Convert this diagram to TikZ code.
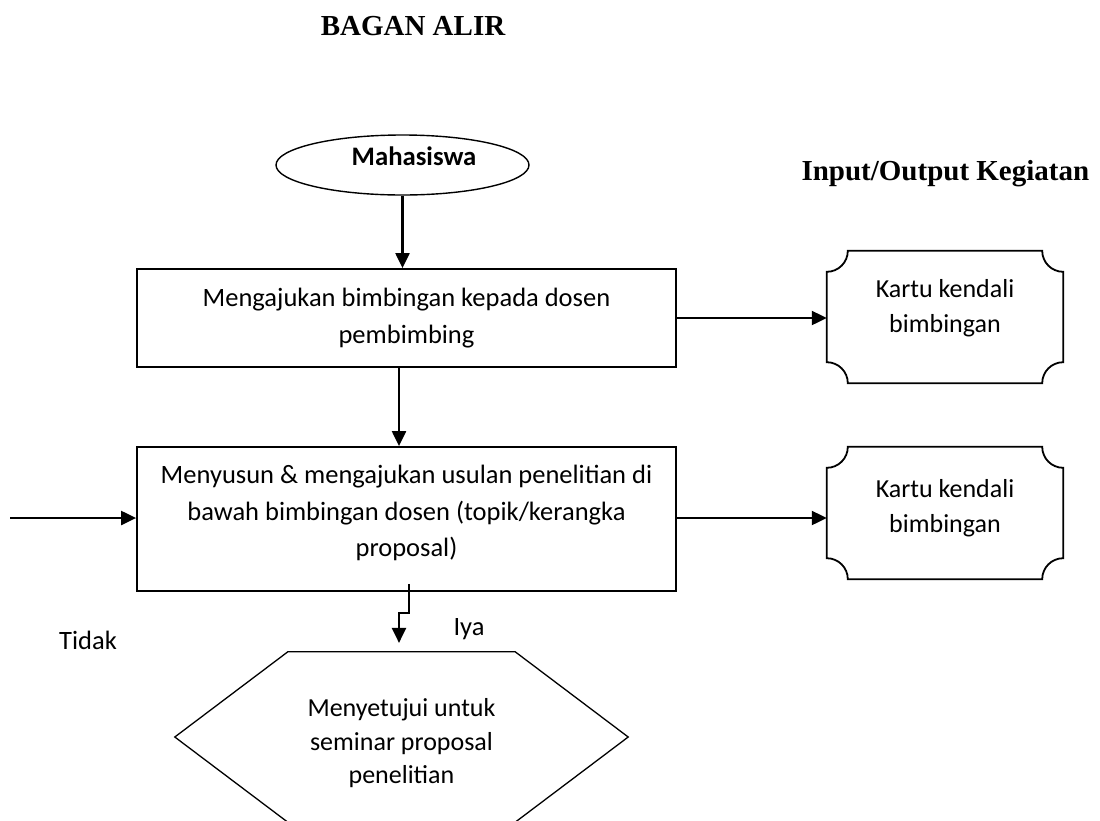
\documentclass[tikz,border=0pt]{standalone}
\usepackage{fontspec}
\setmainfont{Liberation Serif}
\newfontfamily\carl{Carlito}
\usetikzlibrary{shapes.geometric,arrows.meta}
\newcommand{\plaquedraw}[1]{%
  \draw[plaqueline] ([xshift=21pt]#1.north west) -- ([xshift=-21pt]#1.north east)
    arc[start angle=180,end angle=270,radius=21pt] -- ([yshift=21pt]#1.south east)
    arc[start angle=90,end angle=180,radius=21pt] -- ([xshift=21pt]#1.south west)
    arc[start angle=0,end angle=90,radius=21pt] -- ([yshift=-21pt]#1.north west)
    arc[start angle=270,end angle=360,radius=21pt] -- cycle;}
\begin{document}
\begin{tikzpicture}[x=1pt,y=1pt,
  txt/.style={font=\carl\fontsize{26.5}{36.5}\selectfont, align=center},
  procbox/.style={draw, line width=1.8pt, rectangle, inner sep=0pt, txt, minimum width=539pt},
  kartu/.style={txt, font=\carl\fontsize{26}{35}\selectfont, inner sep=0pt, minimum width=236pt, minimum height=132pt},
  plaqueline/.style={line width=1.8pt},
  hexline/.style={line width=1.3pt},
  arr/.style={line width=2.2pt, -{Triangle[length=15pt,width=14pt]}},
  heading/.style={font=\bfseries\fontsize{29}{34}\selectfont}]
\useasboundingbox (0,0) rectangle (1100,-820);
\clip (0,0) rectangle (1100,-820);

\node[heading, anchor=base] (title) at (413,-35) {BAGAN ALIR};
\node[heading, anchor=base west] (io) at (798,-180) {Input/Output Kegiatan};

\node[ellipse, draw, line width=1.4pt, minimum width=253pt, minimum height=60pt,
      inner sep=0pt, text depth=17pt, font=\carl\bfseries\fontsize{26.7}{30}\selectfont]
      (mhs) at (402.5,-165) {\hspace*{23pt}Mahasiswa};

\node[procbox, minimum height=98pt] (box1) at (406.5,-318)
  {Mengajukan bimbingan kepada dosen\\pembimbing};
\node[procbox, minimum height=144pt, text depth=16pt] (box2) at (406.5,-519)
  {Menyusun \& mengajukan usulan penelitian di\\bawah bimbingan dosen (topik/kerangka\\proposal)};

\node[kartu, text depth=22pt] (k1) at (945,-317) {Kartu kendali\\bimbingan};
\node[kartu, text depth=14pt] (k2) at (945,-513) {Kartu kendali\\bimbingan};
\plaquedraw{k1}
\plaquedraw{k2}

\node[txt, font=\carl\fontsize{26}{33.5}\selectfont, text height=98pt, minimum width=453pt, minimum height=170pt, inner sep=0pt]
  (hex) at (401.5,-737) {Menyetujui untuk\\seminar proposal\\penelitian};
\draw[hexline] (hex.west) -- ([xshift=113pt]hex.north west) -- ([xshift=-113pt]hex.north east)
  -- (hex.east) -- ([xshift=-113pt]hex.south east) -- ([xshift=113pt]hex.south west) -- cycle;

\node[txt, anchor=base west] (iya) at (450,-635) {Iya};
\node[txt] (tidak) at (88,-640) {Tidak};

\coordinate (inleft) at (10,-518);

\draw[arr] (mhs.south) -- (mhs.south |- box1.north);
\draw[arr] (box1.east) -- (box1.east -| k1.west);
\draw[arr] ([xshift=-7.5pt]box1.south) -- ([xshift=-7.5pt]box2.north);
\draw[arr] (inleft) -- (inleft -| box2.west);
\draw[arr] (box2.east |- inleft) -- (inleft -| k2.west);
\draw[arr] ([xshift=2.5pt,yshift=8pt]box2.south) -- ++(0,-29) -- ++(-10,0) -- ++(0,-30);
\end{tikzpicture}
\end{document}
